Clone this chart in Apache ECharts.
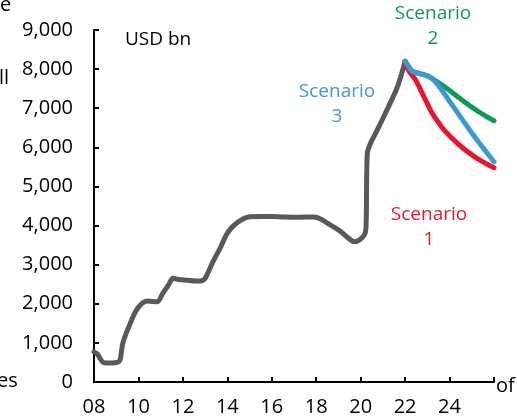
<!DOCTYPE html>
<html><head><meta charset="utf-8">
<script src="https://cdn.jsdelivr.net/npm/echarts@6/dist/echarts.min.js"></script>
<style>html,body{margin:0;padding:0;background:#fff}#c{width:517px;height:417px}</style>
</head><body><div id="c"></div>
<script>
// Historical series (year, USD bn)
const histYears = [2008.0,2008.15,2008.45,2008.8,2009.05,2009.17,2009.3,2009.6,2009.97,2010.4,2010.6,2010.85,2011.1,2011.35,2011.55,2011.8,2012.2,2012.6,2012.85,2013.0,2013.35,2013.7,2013.95,2014.2,2014.45,2014.7,2014.95,2015.5,2016.0,2016.5,2017.0,2017.5,2017.9,2018.2,2018.5,2018.8,2019.1,2019.4,2019.7,2019.85,2020.2,2020.25,2020.3,2020.45,2020.7,2020.95,2021.3,2021.6,2021.8,2022.0];
const histValues = [770,715,490,485,500,560,1000,1460,1890,2070,2060,2050,2270,2480,2650,2620,2600,2580,2590,2650,3070,3450,3760,3950,4080,4170,4220,4230,4230,4220,4210,4220,4220,4170,4060,3960,3850,3700,3590,3600,3800,4150,5850,6110,6390,6680,7100,7470,7800,8200];
// Scenarios
const s1Years = [2022.0,2022.1,2022.47,2022.77,2022.99,2023.22,2023.52,2023.82,2024.27,2024.71,2025.31,2026.0];
const s1Values = [8200,8020,7720,7380,7130,6870,6620,6400,6150,5930,5690,5480];
const s2Years = [2022.0,2022.17,2022.32,2022.62,2022.99,2023.22,2023.82,2024.56,2025.31,2026.0];
const s2Values = [8200,8060,7950,7890,7830,7760,7530,7210,6910,6680];
const s3Years = [2022.0,2022.17,2022.32,2022.62,2022.99,2023.29,2023.59,2023.96,2024.49,2025.01,2025.53,2026.0];
const s3Values = [8200,8060,7950,7890,7830,7720,7510,7210,6780,6360,5970,5630];
const yTicks = [0,1000,2000,3000,4000,5000,6000,7000,8000,9000];

const zip = (a,b) => a.map((x,i)=>[x,b[i]]);
const FONT = 'Open Sans';
const chart = echarts.init(document.getElementById('c'), null, {renderer:'canvas'});
const lineS = (name, data, color, w, sm) => ({name, type:'line', data, showSymbol:false, smooth:sm,
  lineStyle:{color, width:w, cap:'round', join:'round'}, itemStyle:{color}, animation:false, z:2});
chart.setOption({
  animation:false,
  grid:{left:94, right:23, top:30, bottom:35, containLabel:false},
  xAxis:{type:'value', min:2008, max:2026, interval:2,
    axisLine:{lineStyle:{color:'#000', width:2}},
    axisTick:{inside:true, length:5, lineStyle:{color:'#000', width:2}},
    splitLine:{show:false},
    axisLabel:{color:'#000', fontFamily:FONT, fontSize:20, margin:15,
      formatter:v => v>=2026 ? '' : String(v).slice(2)}},
  yAxis:{type:'value', min:0, max:9000, interval:1000,
    axisLine:{show:true, lineStyle:{color:'#000', width:2}},
    axisTick:{show:true, inside:true, length:5, lineStyle:{color:'#000', width:2}},
    splitLine:{show:false},
    axisLabel:{color:'#000', fontFamily:FONT, fontSize:20, margin:21,
      formatter:v => yTicks.includes(v) ? v.toLocaleString('en-US') : ''}},
  series:[
    lineS('hist', zip(histYears,histValues), '#595959', 5, 0.3),
    lineS('Scenario 2', zip(s2Years,s2Values), '#119955', 5, 0.4),
    lineS('Scenario 1', zip(s1Years,s1Values), '#e5172d', 5, 0.5),
    lineS('Scenario 3', zip(s3Years,s3Values), '#3f98d1', 5, 0.4)
  ],
  graphic:[
    {type:'text', x:125, y:40, style:{text:'USD bn', fill:'#000', font:`19px "${FONT}"`, verticalAlign:'middle'}},
    {type:'text', x:433, y:26, style:{text:'Scenario\n2', fill:'#119955', font:`19px "${FONT}"`, align:'center', verticalAlign:'middle', lineHeight:25}},
    {type:'text', x:337, y:104, style:{text:'Scenario\n3', fill:'#3f98d1', font:`19px "${FONT}"`, align:'center', verticalAlign:'middle', lineHeight:25}},
    {type:'text', x:429, y:227, style:{text:'Scenario\n1', fill:'#e5172d', font:`19px "${FONT}"`, align:'center', verticalAlign:'middle', lineHeight:25}},
    {type:'text', x:0, y:5, style:{text:'e', fill:'#000', font:`20px "${FONT}"`, verticalAlign:'middle'}},
    {type:'text', x:-1, y:78, style:{text:'ll', fill:'#000', font:`20px "${FONT}"`, verticalAlign:'middle'}},
    {type:'text', x:-3, y:381, style:{text:'es', fill:'#000', font:`20px "${FONT}"`, verticalAlign:'middle'}},
    {type:'text', x:496, y:386, style:{text:'of', fill:'#000', font:`20px "${FONT}"`, verticalAlign:'middle'}}
  ]
});
</script></body></html>
